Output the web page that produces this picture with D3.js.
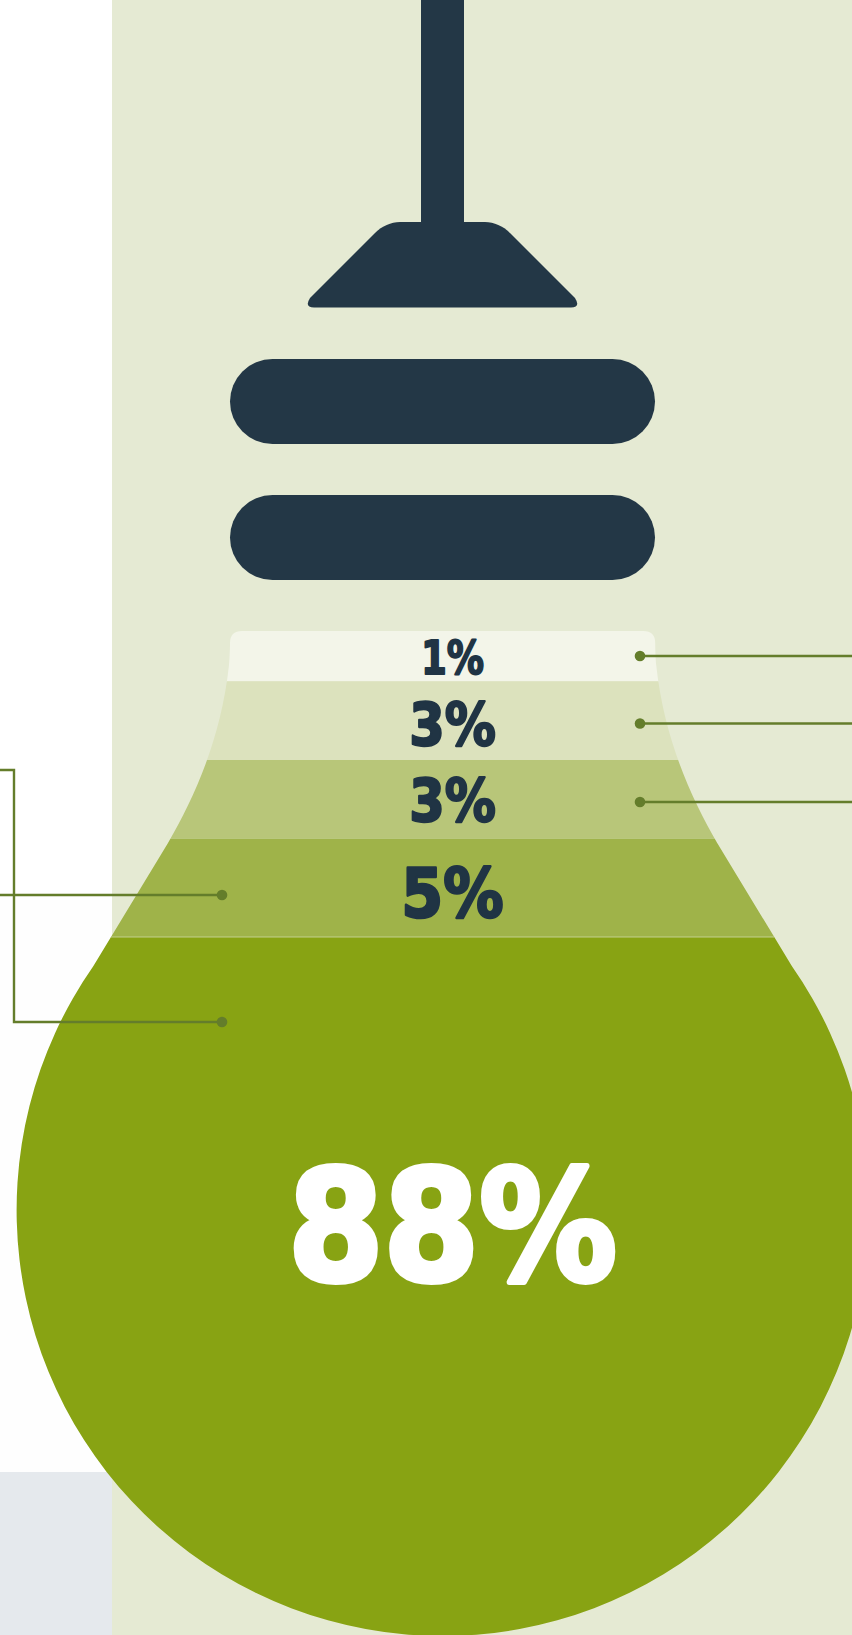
<!DOCTYPE html>
<html>
<head>
<meta charset="utf-8">
<style>
  html, body { margin: 0; padding: 0; background: #fff; }
  svg { display: block; }
  text { font-family: "DejaVu Sans", Roboto, sans-serif; font-weight: 700; }
</style>
<script src="https://cdn.jsdelivr.net/npm/d3@7"></script>
</head>
<body>
<svg id="chart" width="852" height="1635"></svg>
<script>
// Share of each tier, listed from the neck of the bulb down to its base
const labels = ["1%", "3%", "3%", "5%", "88%"];
const shares = [1, 3, 3, 5, 88];
const tierColors = ["#f3f5e9", "#dce2bd", "#b8c679", "#9fb349", "#88a313"];
const labelColors = ["#203444", "#203444", "#203444", "#203444", "#ffffff"];
const leaderSides = ["right", "right", "right", "left", "left-elbow"];

const width = 852, height = 1635;
const cx = 442.6;
const svg = d3.select("#chart");

// Infographic scales: tier height, digit height and label width by share
const tierHeight = d3.scaleLinear().domain([1, 3, 5, 88]).range([50.3, 78.7, 98.3, 698]);
const capHeight = d3.scaleLinear().domain([1, 3, 5, 88]).range([36, 46, 53, 119]);
const labelWidth = d3.scaleLinear().domain([1, 3, 5, 88]).range([65, 89, 105, 335]);

// Page background blocks
svg.append("rect").attr("width", width).attr("height", height).attr("fill", "#fefefe");
svg.append("rect").attr("width", 112).attr("height", 900).attr("fill", "#ffffff");
svg.append("rect").attr("y", 1472).attr("width", 113).attr("height", height - 1472).attr("fill", "#e5e9ed");
svg.append("rect").attr("x", 112).attr("width", width - 112).attr("height", height).attr("fill", "#e5ead3");

// Lamp fitting: cord, shade and the two collars
const dark = "#233746";
svg.append("rect").attr("x", 421).attr("y", 0).attr("width", 43).attr("height", 240).attr("fill", dark);

const shade = d3.path();
shade.moveTo(400, 222);
shade.lineTo(485, 222);
shade.bezierCurveTo(494, 222, 503, 226, 510, 233);
shade.lineTo(575, 298);
shade.quadraticCurveTo(581, 307.4, 571, 307.4);
shade.lineTo(314, 307.4);
shade.quadraticCurveTo(304, 307.4, 310, 298);
shade.lineTo(375, 233);
shade.bezierCurveTo(382, 226, 391, 222, 400, 222);
shade.closePath();
svg.append("path").attr("d", shade.toString()).attr("fill", dark);

svg.selectAll("rect.collar").data([359, 495]).join("rect")
  .attr("class", "collar")
  .attr("x", 230).attr("y", d => d)
  .attr("width", 425).attr("height", 85)
  .attr("rx", 42.5).attr("fill", dark);

// Bulb silhouette, drawn down the right side and mirrored up the left
const radius = 426, baseY = 1210, joinY = 966;
const m = x => 2 * cx - x;
const joinX = cx - Math.sqrt(radius * radius - (joinY - baseY) * (joinY - baseY));
const bulb = d3.path();
bulb.moveTo(242, 631);
bulb.lineTo(m(242), 631);
bulb.quadraticCurveTo(m(230), 631, m(230), 643);
bulb.bezierCurveTo(m(230), 650, m(229.5), 660, m(229), 665);
bulb.bezierCurveTo(m(221), 740, m(193), 800, m(168), 843);
bulb.lineTo(m(joinX), joinY);
const a = Math.asin((joinY - baseY) / radius);
bulb.arc(cx, baseY, radius, a, Math.PI - a, false);
bulb.lineTo(168, 843);
bulb.bezierCurveTo(193, 800, 221, 740, 229, 665);
bulb.bezierCurveTo(229.5, 660, 230, 650, 230, 643);
bulb.quadraticCurveTo(230, 631, 242, 631);
bulb.closePath();

svg.append("defs").append("clipPath").attr("id", "bulb-clip")
  .append("path").attr("d", bulb.toString());

// Stack the tiers from the top of the bulb
const tops = [];
shares.reduce((y, s) => { tops.push(y); return y + tierHeight(s); }, 631);
const tiers = shares.map((s, i) => ({
  share: s, label: labels[i], color: tierColors[i], ink: labelColors[i],
  side: leaderSides[i], top: tops[i], h: tierHeight(s)
}));

const tierGroup = svg.append("g").attr("clip-path", "url(#bulb-clip)");
tierGroup.selectAll("rect").data(tiers).join("rect")
  .attr("x", 0).attr("width", width)
  .attr("y", d => d.top).attr("height", d => d.h)
  .attr("fill", d => d.color);

// Hairline between the last two tiers
tierGroup.append("line")
  .attr("x1", 0).attr("x2", width)
  .attr("y1", tiers[4].top).attr("y2", tiers[4].top)
  .attr("stroke", "#c3d08e").attr("stroke-width", 1);

// Leader lines running off the page edges
const leaderColor = "#647d2b";
const leaderRows = [656, 723.5, 802, 895, 1022];
const leaderGroup = svg.append("g");
tiers.forEach((d, i) => {
  const y = leaderRows[i];
  const dotX = d.side === "right" ? 640 : 222;
  const p = d3.path();
  p.moveTo(dotX, y);
  if (d.side === "right") p.lineTo(width, y);
  if (d.side === "left") p.lineTo(0, y);
  if (d.side === "left-elbow") { p.lineTo(14, y); p.lineTo(14, 770); p.lineTo(0, 770); }
  leaderGroup.append("path").attr("d", p.toString())
    .attr("fill", "none").attr("stroke", leaderColor).attr("stroke-width", 2.4);
  leaderGroup.append("circle").attr("cx", dotX).attr("cy", y).attr("r", 5.3).attr("fill", leaderColor);
});

// Percentage labels, thickened with a same-colour outline to a display weight
const baselines = [675, 746, 822, 918, 1283];
const outline = share => capHeight(share) * 0.05;
svg.selectAll("text.share").data(tiers).join("text")
  .attr("class", "share")
  .attr("x", d => 452.5 - labelWidth(d.share) / 2 + outline(d.share) / 2)
  .attr("y", (d, i) => baselines[i] - outline(d.share) / 2)
  .attr("font-size", d => (capHeight(d.share) - outline(d.share)) / 0.74)
  .attr("textLength", d => labelWidth(d.share) - outline(d.share))
  .attr("lengthAdjust", "spacingAndGlyphs")
  .attr("fill", d => d.ink)
  .attr("stroke", d => d.ink)
  .attr("stroke-width", d => outline(d.share))
  .attr("stroke-linejoin", "round")
  .text(d => d.label);
</script>
</body>
</html>
